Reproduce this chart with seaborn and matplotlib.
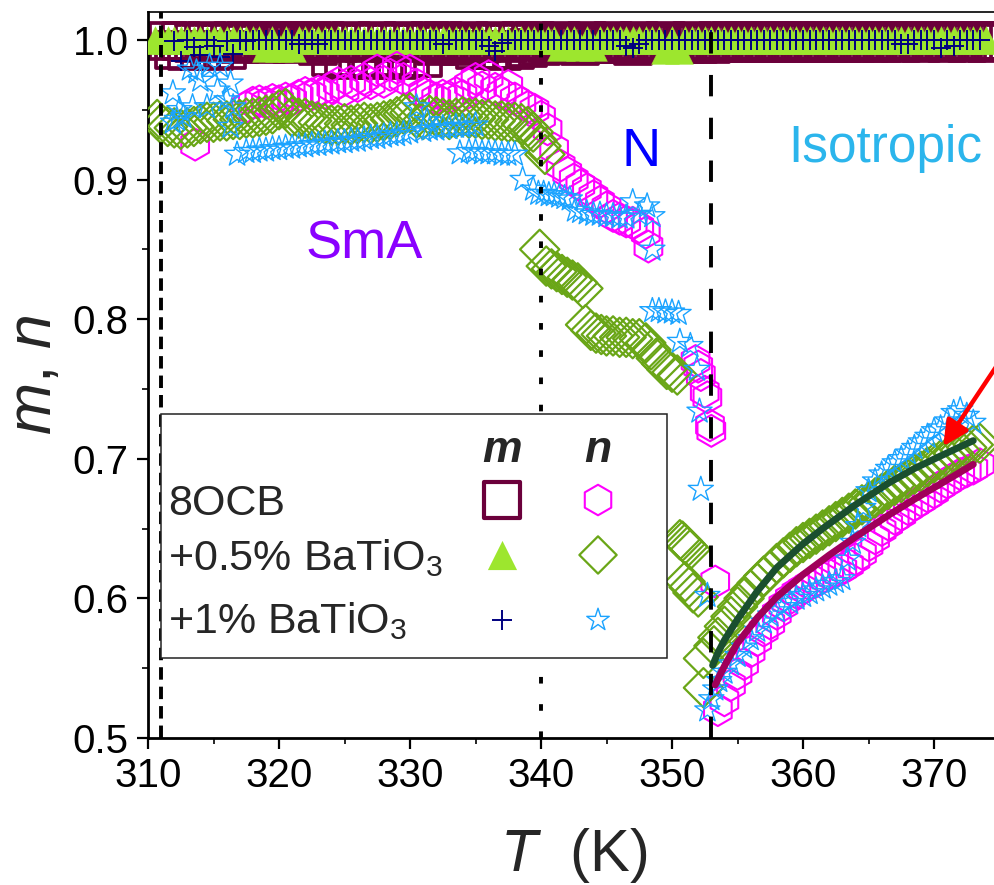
import numpy as np
import pandas as pd
import matplotlib
matplotlib.use("Agg")
import matplotlib.pyplot as plt
import seaborn as sns
from matplotlib.patches import Rectangle
from matplotlib.ticker import MultipleLocator, FormatStrFormatter

sns.set_style("ticks")
plt.rcParams["font.family"] = ["Liberation Sans", "DejaVu Sans"]
plt.rcParams["mathtext.fontset"] = "custom"
plt.rcParams["mathtext.rm"] = "Liberation Sans"
plt.rcParams["mathtext.it"] = "Liberation Sans:italic"
plt.rcParams["mathtext.bf"] = "Liberation Sans:bold"

nan = np.nan

# ---------------- order parameter m (shared temperature grid, K) ----------------
T_m = [310.5, 311.0, 311.5, 312.0, 312.5, 313.0, 313.5, 314.0, 314.5, 315.0,
       315.5, 316.0, 316.5, 317.0, 317.5, 318.0, 318.5, 319.0, 319.5, 320.0,
       320.5, 321.0, 321.5, 322.0, 322.5, 323.0, 323.5, 324.0, 324.5, 325.0,
       325.5, 326.0, 326.5, 327.0, 327.5, 328.0, 328.5, 329.0, 329.5, 330.0,
       330.5, 331.0, 331.5, 332.0, 332.5, 333.0, 333.5, 334.0, 334.5, 335.0,
       335.5, 336.0, 336.5, 337.0, 337.5, 338.0, 338.5, 339.0, 339.5, 340.0,
       340.5, 341.0, 341.5, 342.0, 342.5, 343.0, 343.5, 344.0, 344.5, 345.0,
       345.5, 346.0, 346.5, 347.0, 347.5, 348.0, 348.5, 349.0, 349.5, 350.0,
       350.5, 351.0, 351.5, 352.0, 352.5, 353.0, 353.5, 354.0, 354.5, 355.0,
       355.5, 356.0, 356.5, 357.0, 357.5, 358.0, 358.5, 359.0, 359.5, 360.0,
       360.5, 361.0, 361.5, 362.0, 362.5, 363.0, 363.5, 364.0, 364.5, 365.0,
       365.5, 366.0, 366.5, 367.0, 367.5, 368.0, 368.5, 369.0, 369.5, 370.0,
       370.5, 371.0, 371.5, 372.0, 372.5, 373.0, 373.5, 374.0, 374.5, 375.0]

m_8ocb = [nan, nan, 0.999, 0.993, 0.999, 0.992, 0.998, 0.993, 0.999, 0.992,
          0.998, 0.993, 0.999, 0.997, 0.999, 0.998, 0.999, 0.997, 0.999, 0.998,
          0.999, 0.997, 0.999, 0.998, 0.999, 0.996, 0.999, 0.988, 0.998, 0.986,
          0.999, 0.987, 0.998, 0.986, 0.999, 0.988, 0.998, 0.986, 0.999, 0.987,
          0.998, 0.987, 0.999, 0.996, 0.999, 0.997, 0.998, 0.996, 0.999, 0.993,
          0.998, 0.993, 0.999, 0.992, 0.998, 0.993, 0.999, 0.994, 0.999, 0.996,
          0.998, 0.997, 0.999, 0.997, 0.998, 0.996, 0.999, 0.997, 0.998, 0.997,
          0.999, 0.997, 0.998, 0.996, 0.999, 0.997, 0.998, 0.997, 0.999, 0.997,
          0.998, 0.997, 0.999, 0.997, 0.998, 0.997, 0.999, 0.998, 0.999, 0.998,
          0.999, 0.998, 0.999, 0.998, 0.999, 0.998, 0.999, 0.998, 0.999, 0.998,
          0.999, 0.998, 0.999, 0.998, 0.999, 0.998, 0.999, 0.998, 0.999, 0.998,
          0.999, 0.998, 0.999, 0.999, 0.998, 0.999, 0.999, 0.998, 0.999, 0.999,
          0.999, 0.998, 0.999, 0.999, 0.998, 0.999, 0.999, 0.998, 0.999, 0.999]

m_05 = [1.000, 1.000, 1.000, 1.000, 1.000, 1.000, 1.000, 1.000, 1.000, 1.000,
        1.000, 1.000, 1.000, 1.000, 1.000, 1.000, 1.000, 0.994, 1.000, 0.994,
        1.000, 0.994, 1.000, 1.000, 1.000, 1.000, 1.000, 1.000, 1.000, 1.000,
        1.000, 1.000, 1.000, 1.000, 1.000, 1.000, 1.000, 1.000, 1.000, 1.000,
        1.000, 1.000, 1.000, 1.000, 1.000, 1.000, 1.000, 1.000, 1.000, 1.000,
        1.000, 1.000, 1.000, 1.000, 1.000, 1.000, 1.000, 1.000, 1.000, 1.000,
        1.000, 1.000, 0.995, 1.000, 1.000, 0.995, 1.000, 0.995, 1.000, 1.000,
        1.000, 1.000, 1.000, 1.000, 1.000, 1.000, 1.000, 1.000, 0.993, 1.000,
        0.993, 1.000, 1.000, 1.000, 1.000, 1.000, 1.000, 1.000, 1.000, 1.000,
        1.000, 1.000, 1.000, 1.000, 1.000, 1.000, 1.000, 1.000, 1.000, 1.000,
        1.000, 1.000, 1.000, 1.000, 1.000, 1.000, 1.000, 1.000, 1.000, 1.000,
        1.000, 1.000, 1.000, 1.000, 1.000, 1.000, 1.000, 1.000, 1.000, 1.000,
        1.000, 1.000, 1.000, 1.000, 1.000, 1.000, 1.000, 1.000, nan, nan]

m_1 = [nan, nan, nan, 0.999, 0.985, 1.000, 0.995, 0.989, 1.000, 0.996,
       0.988, 0.999, 0.990, 1.000, 0.999, 1.000, 1.000, 1.000, 1.000, 1.000,
       1.000, 1.000, 0.997, 1.000, 1.000, 0.997, 1.000, 1.000, 1.000, 1.000,
       1.000, 1.000, 1.000, 1.000, 1.000, 1.000, 1.000, 1.000, 1.000, 1.000,
       1.000, 1.000, 1.000, 1.000, 0.997, 1.000, 1.000, 1.000, 1.000, 1.000,
       1.000, 0.996, 0.992, 0.998, 1.000, 1.000, 1.000, 1.000, 1.000, 1.000,
       1.000, 1.000, 1.000, 1.000, 1.000, 1.000, 1.000, 1.000, 1.000, 1.000,
       1.000, 1.000, 0.996, 0.994, 0.997, 1.000, 1.000, 1.000, 1.000, 1.000,
       1.000, 1.000, 1.000, 1.000, 1.000, 1.000, 1.000, 1.000, 1.000, 1.000,
       1.000, 1.000, 1.000, 1.000, 1.000, 1.000, 1.000, 1.000, 1.000, 1.000,
       1.000, 1.000, 1.000, 1.000, 1.000, 1.000, 1.000, 1.000, 1.000, 1.000,
       1.000, 1.000, 1.000, 1.000, 0.997, 0.997, 1.000, 1.000, 1.000, 1.000,
       0.994, 1.000, 0.996, 1.000, 1.000, 1.000, 1.000, nan, nan, nan]

# ---------------- order parameter n ----------------
T_n_8ocb = [313.6,
            317.5, 318.0, 318.5, 319.0, 319.5, 320.0, 320.5, 321.0, 321.5, 322.0,
            322.5, 323.0, 323.5, 324.0, 324.5, 325.0, 325.5, 326.0, 326.5, 327.0,
            327.5, 328.0, 328.5, 329.0, 329.5, 330.0, 330.5, 331.0, 331.5, 332.0,
            332.5, 333.0, 333.5, 334.0, 334.5, 335.0, 335.5, 336.0, 336.5, 337.0,
            337.5, 338.0, 338.5, 339.0, 339.5,
            340.0, 340.5, 341.0, 341.5, 342.0, 342.5, 343.0, 343.5, 344.0, 344.5,
            345.0, 345.5, 346.0, 346.5, 347.0, 347.5, 348.0, 348.2,
            351.8, 352.0, 352.2, 352.5, 352.7, 352.9, 353.0, 353.3,
            353.5, 354.0, 354.5, 355.0, 355.5, 356.0, 356.5, 357.0, 357.5, 358.0,
            358.5, 359.0, 359.5, 360.0, 360.5, 361.0, 361.5, 362.0, 362.5, 363.0,
            363.5, 364.0, 364.5, 365.0, 365.5, 366.0, 366.5, 367.0, 367.5, 368.0,
            368.5, 369.0, 369.5, 370.0, 370.5, 371.0, 371.5, 372.0, 372.5, 373.0,
            373.5]
n_8ocb = [0.925,
          0.952, 0.955, 0.956, 0.955, 0.957, 0.956, 0.958, 0.957, 0.960, 0.962,
          0.961, 0.963, 0.962, 0.966, 0.969, 0.964, 0.970, 0.967, 0.972, 0.969,
          0.978, 0.970, 0.975, 0.980, 0.972, 0.978, 0.968, 0.962, 0.960, 0.958,
          0.960, 0.959, 0.962, 0.960, 0.968, 0.972, 0.966, 0.974, 0.965, 0.962,
          0.967, 0.958, 0.955, 0.952, 0.950,
          0.945, 0.936, 0.922, 0.910, 0.905, 0.900, 0.896, 0.893, 0.888, 0.884,
          0.880, 0.874, 0.872, 0.870, 0.869, 0.866, 0.862, 0.852,
          0.770, 0.766, 0.760, 0.748, 0.744, 0.724, 0.720, 0.612,
          0.520, 0.527, 0.538, 0.546, 0.553, 0.562, 0.570, 0.577, 0.582, 0.589,
          0.595, 0.600, 0.604, 0.607, 0.610, 0.612, 0.615, 0.617, 0.619, 0.621,
          0.624, 0.628, 0.632, 0.638, 0.643, 0.649, 0.653, 0.657, 0.660, 0.664,
          0.667, 0.670, 0.673, 0.676, 0.680, 0.683, 0.686, 0.689, 0.691, 0.693,
          0.696]

T_n_05 = [310.7, 311.0, 311.5, 312.0, 312.5, 313.0, 313.5, 314.0, 314.5, 315.0,
          315.5, 316.0, 316.5, 317.0, 317.5, 318.0, 318.5, 319.0, 319.5, 320.0,
          320.5, 321.0, 321.5, 322.0, 322.5, 323.0, 323.5, 324.0, 324.5, 325.0,
          325.5, 326.0, 326.5, 327.0, 327.5, 328.0, 328.5, 329.0, 329.5, 330.0,
          330.5, 331.0, 331.5, 332.0, 332.5, 333.0, 333.5, 334.0, 334.5, 335.0,
          335.5, 336.0, 336.5, 337.0, 337.5, 338.0, 338.5, 339.0, 339.4, 339.7,
          340.0, 340.3,
          339.9, 340.4, 340.8, 341.2, 341.6, 342.0, 342.4, 342.8, 343.2,
          343.4, 343.8, 344.2, 344.6, 345.0, 345.5, 346.0, 346.5, 347.0, 347.5,
          348.0, 348.4, 348.8, 349.2, 349.6, 350.0, 350.4,
          350.6, 350.8, 351.0, 351.2, 351.4, 351.0, 351.3, 351.6, 352.0, 352.4, 352.4,
          353.2, 353.5, 354.0, 354.5, 355.0, 355.5, 356.0, 356.5, 357.0, 357.5,
          358.0, 358.5, 359.0, 359.5, 360.0, 360.5, 361.0, 361.5, 362.0, 362.5,
          363.0, 363.5, 364.0, 364.5, 365.0, 365.5, 366.0, 366.5, 367.0, 367.5,
          368.0, 368.5, 369.0, 369.5, 370.0, 370.5, 371.0, 371.5, 372.0, 372.5,
          373.0, 373.5]
n_05 = [0.943, 0.940, 0.938, 0.937, 0.936, 0.937, 0.938, 0.940, 0.941, 0.941,
        0.942, 0.942, 0.943, 0.943, 0.944, 0.944, 0.945, 0.946, 0.947, 0.950,
        0.951, 0.945, 0.944, 0.944, 0.942, 0.941, 0.940, 0.939, 0.939, 0.940,
        0.939, 0.940, 0.941, 0.940, 0.941, 0.942, 0.943, 0.945, 0.947, 0.948,
        0.944, 0.943, 0.946, 0.945, 0.944, 0.943, 0.944, 0.945, 0.944, 0.944,
        0.943, 0.943, 0.942, 0.942, 0.941, 0.941, 0.940, 0.938, 0.934, 0.928,
        0.924, 0.918,
        0.850, 0.838, 0.836, 0.834, 0.832, 0.830, 0.828, 0.826, 0.822,
        0.796, 0.792, 0.790, 0.789, 0.788, 0.788, 0.787, 0.787, 0.786, 0.786,
        0.783, 0.778, 0.772, 0.768, 0.764, 0.762, 0.760,
        0.642, 0.641, 0.639, 0.637, 0.635, 0.612, 0.608, 0.604, 0.601, 0.557, 0.536,
        0.566, 0.572, 0.580, 0.587, 0.594, 0.600, 0.606, 0.611, 0.616, 0.620,
        0.625, 0.629, 0.633, 0.637, 0.640, 0.643, 0.646, 0.649, 0.652, 0.655,
        0.658, 0.661, 0.664, 0.667, 0.669, 0.672, 0.675, 0.678, 0.681, 0.683,
        0.686, 0.689, 0.691, 0.694, 0.697, 0.699, 0.701, 0.704, 0.706, 0.708,
        0.710, 0.711]

T_n_1 = [311.9, 311.9, 312.2, 312.4, 312.7, 313.2, 313.4, 313.7, 314.0, 314.5,
         314.7, 315.3, 315.5, 316.0, 316.3, 316.3, 316.5, 316.8,
         317.5, 318.0, 318.5, 319.0, 319.5, 320.0, 320.5, 321.0, 321.5, 322.0,
         322.5, 323.0, 323.5, 324.0, 324.5, 325.0, 325.5, 326.0, 326.5, 327.0,
         327.5, 328.0, 328.5, 329.0, 329.5, 330.0, 330.5, 331.0, 331.3, 331.5,
         332.0, 332.5, 333.0, 333.5, 334.0, 334.5, 335.0,
         333.8, 334.5, 335.0, 335.5, 336.0, 336.5, 337.0, 337.5, 338.0,
         338.6, 339.4, 339.8, 340.2, 340.6, 341.0, 341.4, 341.8, 342.2,
         342.6, 343.0, 343.5, 344.0, 344.5, 345.0, 345.5, 346.0, 346.5, 347.0,
         347.5, 348.1, 348.5, 348.5,
         348.5, 349.0, 349.5, 350.0, 350.5, 350.6, 351.4, 351.9, 352.1, 352.2, 352.7,
         352.7, 353.0, 353.3, 353.6, 354.0, 354.5, 355.0, 355.5, 356.0, 356.5,
         357.0, 357.5, 358.0, 358.5, 359.0, 359.5, 360.0, 360.5, 361.0, 361.5,
         362.0, 362.5, 363.0, 363.4, 363.8, 364.2, 364.6, 365.0, 365.5, 366.0,
         366.5, 367.0, 367.5, 368.0, 368.5, 369.0, 369.5, 370.0, 370.5, 371.0,
         371.5, 372.0, 372.5, 373.0]
n_1 = [0.962, 0.941, 0.943, 0.950, 0.945, 0.979, 0.952, 0.977, 0.971, 0.952,
       0.981, 0.964, 0.981, 0.957, 0.969, 0.938, 0.952, 0.918,
       0.920, 0.920, 0.921, 0.921, 0.922, 0.922, 0.923, 0.923, 0.924, 0.924,
       0.925, 0.925, 0.926, 0.926, 0.927, 0.927, 0.928, 0.928, 0.929, 0.930,
       0.930, 0.931, 0.932, 0.932, 0.933, 0.934, 0.952, 0.935, 0.942, 0.936,
       0.936, 0.937, 0.937, 0.938, 0.938, 0.938, 0.939,
       0.919, 0.920, 0.920, 0.919, 0.919, 0.919, 0.918, 0.918, 0.918,
       0.900, 0.893, 0.890, 0.890, 0.889, 0.889, 0.888, 0.887, 0.886,
       0.878, 0.877, 0.876, 0.875, 0.875, 0.874, 0.874, 0.873, 0.873, 0.884,
       0.875, 0.881, 0.874, 0.850,
       0.806, 0.806, 0.805, 0.805, 0.804, 0.784, 0.781, 0.764, 0.734, 0.678, 0.602,
       0.520, 0.528, 0.535, 0.541, 0.547, 0.553, 0.559, 0.565, 0.571, 0.577,
       0.583, 0.588, 0.591, 0.594, 0.597, 0.600, 0.602, 0.604, 0.606, 0.608,
       0.610, 0.612, 0.614, 0.628, 0.640, 0.652, 0.665, 0.677, 0.684, 0.689,
       0.693, 0.697, 0.700, 0.704, 0.708, 0.712, 0.716, 0.720, 0.722, 0.727,
       0.733, 0.735, 0.731, 0.726]

# ---------------- fitted curves in the isotropic phase ----------------
T_fit_05 = [353.1, 353.5, 354.0, 355.0, 356.5, 358.0, 360.0, 361.5, 364.0, 366.6, 368.5, 370.5, 373.0]
fit_05 = [0.552, 0.561, 0.570, 0.585, 0.605, 0.622, 0.639, 0.650, 0.667, 0.683, 0.693, 0.702, 0.713]
T_fit_8ocb = [353.3, 353.7, 354.2, 355.0, 356.5, 358.0, 360.0, 362.0, 364.0, 366.6, 368.5, 370.5, 373.0]
fit_8ocb = [0.538, 0.546, 0.555, 0.568, 0.586, 0.601, 0.617, 0.631, 0.644, 0.660, 0.671, 0.682, 0.696]

# phase transition temperatures (K)
T_cr, T_AN, T_NI = 311.0, 340.0, 353.0

samples = ["8OCB", "+0.5% BaTiO$_3$", "+1% BaTiO$_3$"]

c_sq, c_hex = "#6B003B", "#FF00FF"
c_tri, c_dia = "#9DE62E", "#6AA617"
c_plus, c_star = "#000080", "#1AA3FF"
c_fit_05, c_fit_8ocb = "#1A4F2F", "#A0005A"

fig = plt.figure(figsize=(9.94, 8.85), dpi=100)
ax = fig.add_axes([148 / 994, (885 - 738) / 885, 851.5 / 994, 726 / 885])


def draw(t, v, marker, ms, color, lw, kind="open", z=2):
    df = pd.DataFrame({"T": t, "v": v}).dropna()
    common = dict(data=df, x="T", y="v", marker=marker, s=ms ** 2, ax=ax,
                  zorder=z, legend=False)
    if kind == "line":
        sns.scatterplot(color=color, linewidth=lw, **common)
    elif kind == "filled":
        sns.scatterplot(color=color, edgecolor=color, linewidth=lw, **common)
    else:
        sns.scatterplot(facecolor="none", edgecolor=color, linewidth=lw, **common)


draw(T_m, m_8ocb, "s", 26, c_sq, 2.7, z=2)
draw(T_m, m_05, "^", 20, c_tri, 0.3, kind="filled", z=3)
draw(T_m, m_1, "+", 15, c_plus, 1.4, kind="line", z=4)
draw(T_n_8ocb, n_8ocb, "h", 23, c_hex, 1.5, z=5)
draw(T_n_05, n_05, "D", 20, c_dia, 1.6, z=6)
draw(T_n_1, n_1, "*", 19, c_star, 1.0, z=7)

sns.lineplot(x=T_fit_05, y=fit_05, color=c_fit_05, lw=5, sort=False,
             estimator=None, ax=ax, zorder=9)
sns.lineplot(x=T_fit_8ocb, y=fit_8ocb, color=c_fit_8ocb, lw=5, sort=False,
             estimator=None, ax=ax, zorder=9)

# phase boundaries
ax.axvline(T_cr, color="black", lw=2.8, dashes=(3.2, 1.8), zorder=8)
ax.axvline(T_AN, color="black", lw=2.8, dashes=(1.7, 5.3), zorder=8)
ax.axvline(T_NI, color="black", lw=2.8, dashes=(5.5, 5.5), zorder=8)

# phase names
ax.text(322.0, 0.8438, "SmA", color="#8A00FF", fontsize=39, zorder=12)
ax.text(346.18, 0.9097, "N", color="#0000FF", fontsize=39, zorder=12)
ax.text(358.85, 0.9126, "Isotropic", color="#2BB5EC", fontsize=37, zorder=12)

# arrow to the fitted curve
ax.annotate("", xy=(370.7, 0.709), xytext=(375.6, 0.778),
            arrowprops=dict(arrowstyle="-|>", color="red", lw=3.2,
                            mutation_scale=38, shrinkA=0, shrinkB=0),
            annotation_clip=False, zorder=12)

# legend table
ax.add_patch(Rectangle((0.0153, 0.1102), 0.5942, 0.3361, transform=ax.transAxes,
                       facecolor="white", edgecolor="#222222", lw=1.1, zorder=10))
col_m, col_n = 0.4157, 0.5285
rows = [0.3278, 0.2521, 0.1625]
base = [0.3072, 0.2314, 0.1446]
ax.text(col_m, 0.3802, "m", transform=ax.transAxes, fontsize=32, fontweight="bold",
        fontstyle="italic", ha="center", va="baseline", zorder=11)
ax.text(col_n, 0.3802, "n", transform=ax.transAxes, fontsize=32, fontweight="bold",
        fontstyle="italic", ha="center", va="baseline", zorder=11)
for lab, yb in zip(samples, base):
    ax.text(0.0235, yb, lab, transform=ax.transAxes, fontsize=31, ha="left",
            va="baseline", zorder=11)
ax.scatter([col_m], [rows[0]], marker="s", s=26 ** 2, facecolor="none", edgecolor=c_sq,
           linewidth=3.0, transform=ax.transAxes, zorder=11, clip_on=False)
ax.scatter([col_n], [rows[0]], marker="h", s=22 ** 2, facecolor="none", edgecolor=c_hex,
           linewidth=1.5, transform=ax.transAxes, zorder=11, clip_on=False)
ax.scatter([col_m], [rows[1]], marker="^", s=21 ** 2, color=c_tri, linewidth=0,
           transform=ax.transAxes, zorder=11, clip_on=False)
ax.scatter([col_n], [rows[1]], marker="D", s=19 ** 2, facecolor="none", edgecolor=c_dia,
           linewidth=1.6, transform=ax.transAxes, zorder=11, clip_on=False)
ax.scatter([col_m], [rows[2]], marker="+", s=15 ** 2, color=c_plus, linewidth=1.4,
           transform=ax.transAxes, zorder=11, clip_on=False)
ax.scatter([col_n], [rows[2]], marker="*", s=17 ** 2, facecolor="none", edgecolor=c_star,
           linewidth=1.0, transform=ax.transAxes, zorder=11, clip_on=False)

# axes
ax.set_xlim(310, 375)
ax.set_ylim(0.5, 1.02)
ax.xaxis.set_major_locator(MultipleLocator(10))
ax.xaxis.set_minor_locator(MultipleLocator(5))
ax.yaxis.set_major_locator(MultipleLocator(0.1))
ax.yaxis.set_minor_locator(MultipleLocator(0.05))
ax.yaxis.set_major_formatter(FormatStrFormatter("%.1f"))
ax.set_xticks([310, 320, 330, 340, 350, 360, 370])
ax.tick_params(which="major", direction="out", length=8, width=1.6, labelsize=29,
               pad=6, top=False, right=False, colors="black")
ax.tick_params(which="minor", direction="out", length=4.5, width=1.4,
               top=False, right=False)
for side in ["left", "bottom"]:
    ax.spines[side].set_linewidth(2.0)
    ax.spines[side].set_color("black")
ax.spines["top"].set_linewidth(1.2)
ax.spines["top"].set_color("black")
ax.spines["right"].set_visible(False)

ax.set_xlabel(r"$T$  (K)", fontsize=43, labelpad=22)
ax.set_ylabel(r"$m$, $n$", fontsize=45, labelpad=6)

fig.savefig("out.png", dpi=100)
